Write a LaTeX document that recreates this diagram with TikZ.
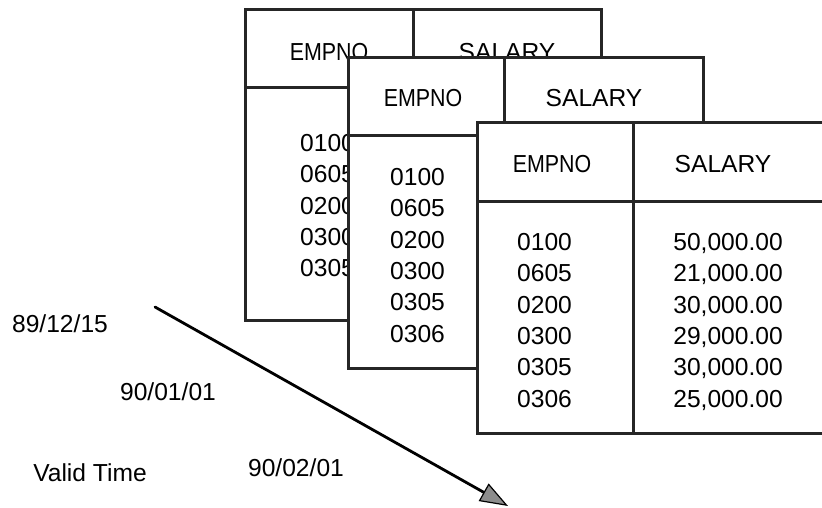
\documentclass[tikz,border=0pt]{standalone}
\usepackage{fontspec}
\setmainfont{Liberation Sans}
\usepackage{graphicx}
\usetikzlibrary{arrows.meta}

\tikzset{
  tbl/.style={draw=black!85,line width=3pt,fill=white},
  rule/.style={draw=black!85,line width=3pt},
  hd/.style={inner sep=0pt,text depth=0pt},
  val/.style={inner sep=0pt,text depth=0pt,anchor=west},
  amt/.style={inner sep=0pt,text depth=0pt,anchor=east},
}
\newcommand{\empno}{\scalebox{0.87}[1]{EMPNO}}

\begin{document}
\begin{tikzpicture}[x=1pt,y=-1pt,font=\fontsize{24.6}{29}\selectfont]
\useasboundingbox (0,0) rectangle (822,508);

% table at 89/12/15
\filldraw[tbl] (245,10) rectangle (601,320);
\draw[rule] (245,88) -- (601,88);
\draw[rule] (413,10) -- (413,320);
\node[hd] (h1a) at (329,52) {\empno};
\node[hd] (h1b) at (507,52) {SALARY};
\foreach \e [count=\i] in {0100,0605,0200,0300,0305}
  \node[val] (e1\i) at (300,{143+31.3*(\i-1)}) {\e};

% table at 90/01/01
\filldraw[tbl] (348,58) rectangle (703,368);
\draw[rule] (348,136) -- (703,136);
\draw[rule] (504,58) -- (504,368);
\node[hd] (h2a) at (423,98) {\empno};
\node[hd] (h2b) at (594,98) {SALARY};
\foreach \e [count=\i] in {0100,0605,0200,0300,0305,0306}
  \node[val] (e2\i) at (390,{177+31.3*(\i-1)}) {\e};

% table at 90/02/01
\filldraw[tbl] (477,123) rectangle (832,433);
\draw[rule] (477,201) -- (832,201);
\draw[rule] (633,123) -- (633,433);
\node[hd] (h3a) at (552,164) {\empno};
\node[hd] (h3b) at (723,164) {SALARY};
\foreach \e/\s [count=\i] in {0100/{50,000.00},0605/{21,000.00},0200/{30,000.00},0300/{29,000.00},0305/{30,000.00},0306/{25,000.00}}
{
  \node[val] (e3\i) at (517,{242+31.3*(\i-1)}) {\e};
  \node[amt] (s3\i) at (783,{242+31.3*(\i-1)}) {\s};
}

% time axis
\node[hd] (d1) at (60,324) {89/12/15};
\node[hd] (d2) at (168,392) {90/01/01};
\node[hd] (d3) at (296,468) {90/02/01};
\node[hd] (vt) at (90,473) {Valid Time};

\coordinate (from) at (155,307);
\coordinate (to) at (508,506);
\draw[line width=2.8pt,line cap=round,-{Triangle[length=28pt,width=20pt,fill=black!45,line width=1.2pt]}] (from) -- (to);

\end{tikzpicture}
\end{document}
